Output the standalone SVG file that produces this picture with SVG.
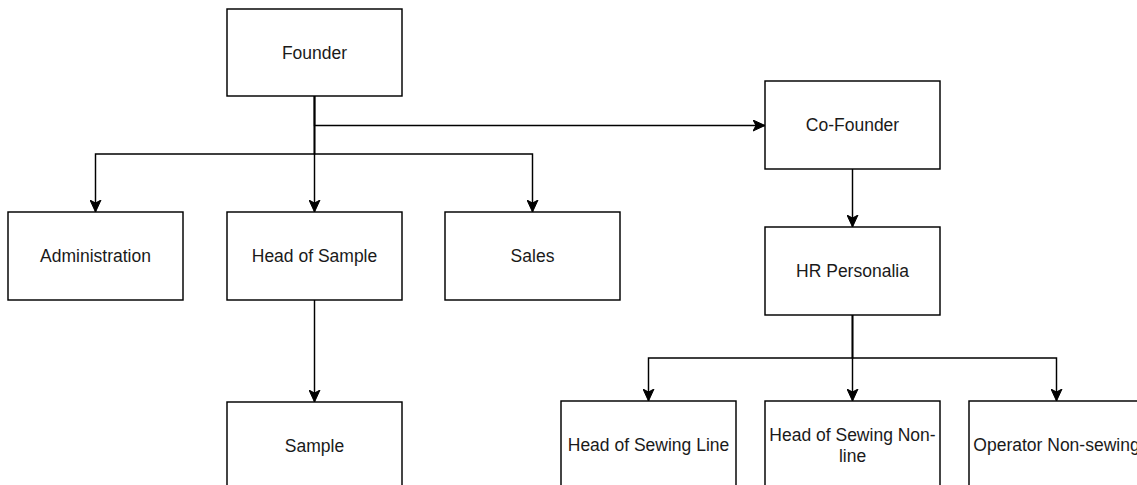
<svg xmlns="http://www.w3.org/2000/svg" width="1137" height="485" viewBox="0 0 1137 485">
<style>
.box{fill:#fff;stroke:#000;stroke-width:1.46}
.lbl{font-family:"Liberation Sans",Arial,Helvetica,sans-serif;font-size:17.5px;fill:#1a1a1a;text-anchor:middle}
.edge{fill:none;stroke:#000;stroke-width:1.46;marker-end:url(#arr)}
</style>
<defs>
<marker id="arr" markerUnits="userSpaceOnUse" viewBox="0 0 12 12" markerWidth="12" markerHeight="12" refX="12" refY="6" orient="auto">
<path d="M0,0.5 L12,6 L0,11.5 L3,6 Z" fill="#000" stroke="#000" stroke-width="1"/>
</marker>
</defs>
<rect width="1137" height="485" fill="#fff"/>
<g id="connectors">
<path class="edge" d="M314.5,96 V154 H95.5 V212"/>
<path class="edge" d="M314.5,96 V212"/>
<path class="edge" d="M314.5,96 V154 H532.5 V212"/>
<path class="edge" d="M314.5,96 V125.5 H765"/>
<path class="edge" d="M852.5,169 V227"/>
<path class="edge" d="M314.5,300 V402"/>
<path class="edge" d="M852.5,315 V358 H648.5 V401"/>
<path class="edge" d="M852.5,315 V401"/>
<path class="edge" d="M852.5,315 V358 H1056.5 V401"/>
</g>
<g id="founder"><rect class="box" x="227" y="9" width="175" height="87"/><text class="lbl" x="314.5" y="58.5">Founder</text></g>
<g id="administration"><rect class="box" x="8" y="212" width="175" height="88"/><text class="lbl" x="95.5" y="262">Administration</text></g>
<g id="head-of-sample"><rect class="box" x="227" y="212" width="175" height="88"/><text class="lbl" x="314.5" y="262">Head of Sample</text></g>
<g id="sales"><rect class="box" x="445" y="212" width="175" height="88"/><text class="lbl" x="532.5" y="262">Sales</text></g>
<g id="sample"><rect class="box" x="227" y="402" width="175" height="88"/><text class="lbl" x="314.5" y="452">Sample</text></g>
<g id="co-founder"><rect class="box" x="765" y="81" width="175" height="88"/><text class="lbl" x="852.5" y="131">Co-Founder</text></g>
<g id="hr-personalia"><rect class="box" x="765" y="227" width="175" height="88"/><text class="lbl" x="852.5" y="277">HR Personalia</text></g>
<g id="head-of-sewing-line"><rect class="box" x="561" y="401" width="175" height="88"/><text class="lbl" x="648.5" y="451">Head of Sewing Line</text></g>
<g id="head-of-sewing-non-line"><rect class="box" x="765" y="401" width="175" height="88"/><text class="lbl" x="852.5" y="441"><tspan x="852.5">Head of Sewing Non-</tspan><tspan x="852.5" dy="21">line</tspan></text></g>
<g id="operator-non-sewing"><rect class="box" x="969" y="401" width="175" height="88"/><text class="lbl" x="1056.5" y="451">Operator Non-sewing</text></g>
</svg>
